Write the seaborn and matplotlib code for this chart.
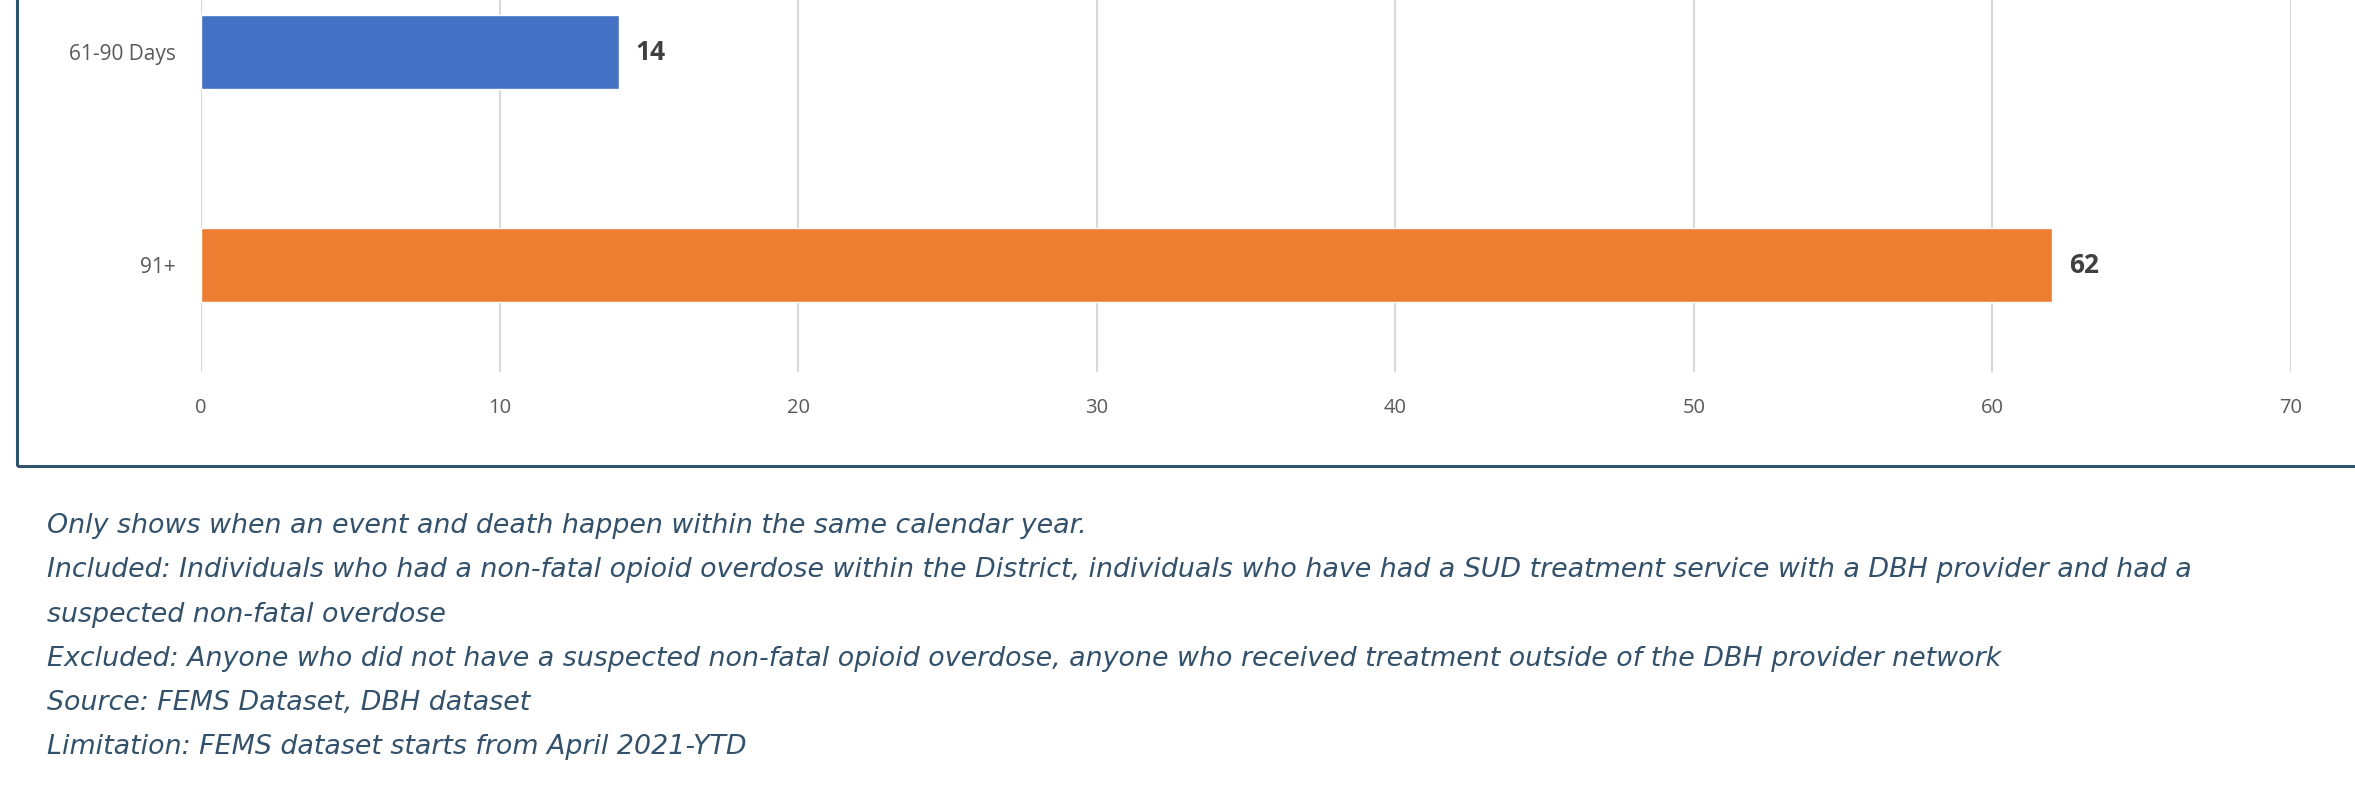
import matplotlib
matplotlib.use("Agg")
import matplotlib.pyplot as plt
from matplotlib.patches import Rectangle
import seaborn as sns
import pandas as pd

# Days between overdose event and death
categories = ["61-90 Days", "91+"]
counts = [14, 62]
bar_colors = ["#4472c4", "#ed7d31"]
x_ticks = [0, 10, 20, 30, 40, 50, 60, 70]

notes = [
    "Only shows when an event and death happen within the same calendar year.",
    "Included: Individuals who had a non-fatal opioid overdose within the District, individuals who have had a SUD treatment service with a DBH provider and had a",
    "suspected non-fatal overdose",
    "Excluded: Anyone who did not have a suspected non-fatal opioid overdose, anyone who received treatment outside of the DBH provider network",
    "Source: FEMS Dataset, DBH dataset",
    "Limitation: FEMS dataset starts from April 2021-YTD",
]

sns.set_theme(style="white")
plt.rcParams["font.family"] = ["Open Sans", "DejaVu Sans"]

W, H = 2355, 794
fig = plt.figure(figsize=(W / 100, H / 100), dpi=100)
fig.patch.set_facecolor("white")

# plot area runs above the top edge of the figure
left, right = 201 / W, 2291 / W
top, bottom = 1 + 54.5 / H, 1 - 371.5 / H
ax = fig.add_axes([left, bottom, right - left, top - bottom])

df = pd.DataFrame({"category": categories, "count": counts})
sns.barplot(data=df, x="count", y="category", hue="category",
            palette=bar_colors, saturation=1, width=0.35, legend=False,
            ax=ax, orient="h", zorder=3)

ax.set_xlim(0, 70)
ax.set_ylim(1.5, -0.5)
ax.set_xticks(x_ticks)
ax.set_xlabel("")
ax.set_ylabel("")
for s in ax.spines.values():
    s.set_visible(False)
ax.grid(axis="x", color="#d9d9d9", linewidth=1.5, zorder=0)
ax.grid(axis="y", visible=False)
ax.tick_params(axis="x", length=0, pad=19, labelsize=14.5, labelcolor="#595959")
ax.tick_params(axis="y", length=0, pad=18, labelsize=15, labelcolor="#595959")

for cont in ax.containers:
    ax.bar_label(cont, fmt="%d", padding=12, fontsize=19, fontweight="bold",
                 color="#404040")

# frame around the chart area
fig.patches.append(Rectangle((16.5 / W, 1 - 466 / H), 1.2, 0.8,
                             transform=fig.transFigure, fill=False,
                             edgecolor="#30546b", linewidth=2.2,
                             clip_on=False))

y0 = 533
for i, line in enumerate(notes):
    fig.text(47 / W, 1 - (y0 + i * 44.3) / H, line, ha="left", va="baseline",
             fontsize=19.4, fontstyle="italic", family=["DejaVu Sans"],
             color="#33516a")

fig.savefig("out.png", dpi=100, facecolor="white")
